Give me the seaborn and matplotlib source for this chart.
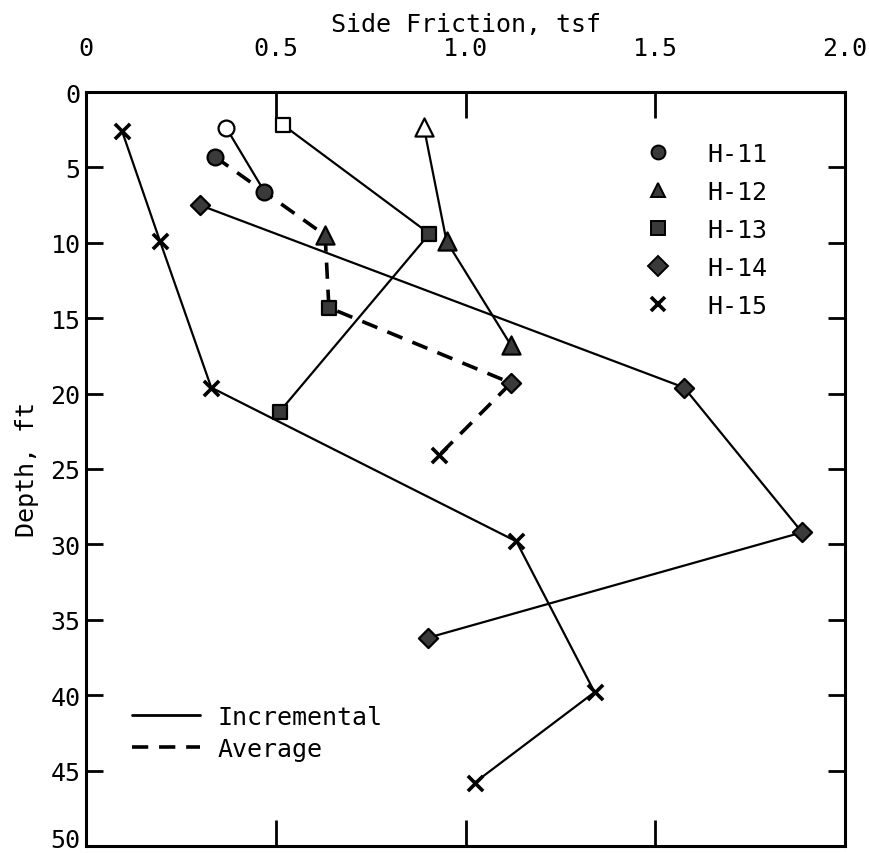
import matplotlib
matplotlib.use("Agg")
import matplotlib.pyplot as plt
from matplotlib.lines import Line2D
from matplotlib.transforms import ScaledTranslation
import seaborn as sns

sns.set_theme(style="white")
plt.rcParams["font.family"] = ["DejaVu Sans Mono"]
plt.rcParams["text.color"] = "black"
plt.rcParams["axes.labelcolor"] = "black"

# Incremental side friction (tsf) against depth (ft) for each borehole
boreholes = ["H-11", "H-12", "H-13", "H-14", "H-15"]
h11_friction = [0.37, 0.47]
h11_depth = [2.4, 6.6]
h12_friction = [0.89, 0.95, 1.12]
h12_depth = [2.3, 9.9, 16.8]
h13_friction = [0.52, 0.905, 0.51]
h13_depth = [2.2, 9.4, 21.2]
h14_friction = [0.30, 1.576, 1.887, 0.90]
h14_depth = [7.5, 19.6, 29.2, 36.2]
h15_friction = [0.095, 0.195, 0.33, 1.134, 1.34, 1.024]
h15_depth = [2.6, 9.9, 19.6, 29.8, 39.8, 45.8]

# Average side friction for each borehole
avg_friction = [0.34, 0.63, 0.64, 1.12, 0.93]
avg_depth = [4.3, 9.5, 14.3, 19.3, 24.1]

x_ticks = [0, 0.5, 1.0, 1.5, 2.0]
x_ticklabels = ["0", "0.5", "1.0", "1.5", "2.0"]
y_ticks = [0, 5, 10, 15, 20, 25, 30, 35, 40, 45, 50]

incremental = {
    "H-11": (h11_friction, h11_depth),
    "H-12": (h12_friction, h12_depth),
    "H-13": (h13_friction, h13_depth),
    "H-14": (h14_friction, h14_depth),
    "H-15": (h15_friction, h15_depth),
}
markers = {"H-11": "o", "H-12": "^", "H-13": "s", "H-14": "D", "H-15": "x"}
sizes = {"H-11": 130, "H-12": 170, "H-13": 105, "H-14": 95, "H-15": 120}
open_first = {"H-11", "H-12", "H-13"}
fill = "#3a3a3a"
fs = 18

fig = plt.figure(figsize=(8.69, 8.54), dpi=100)
ax = fig.add_axes([0.099, 0.0082, 0.8734, 0.8829])


def draw_markers(name, xs, ys, face):
    if not xs:
        return
    if markers[name] == "x":
        sns.scatterplot(x=xs, y=ys, marker="x", s=sizes[name], color="black",
                        linewidth=2.6, ax=ax, zorder=4)
    else:
        sns.scatterplot(x=xs, y=ys, marker=markers[name], s=sizes[name],
                        color=face, edgecolor="black", linewidth=1.6,
                        ax=ax, zorder=4)


for name in boreholes:
    fr, dp = incremental[name]
    sns.lineplot(x=fr, y=dp, sort=False, estimator=None, color="black",
                 linewidth=1.6, ax=ax, zorder=2)
    if name in open_first:
        draw_markers(name, fr[:1], dp[:1], "white")
        draw_markers(name, fr[1:], dp[1:], fill)
    else:
        draw_markers(name, fr, dp, fill)

sns.lineplot(x=avg_friction, y=avg_depth, sort=False, estimator=None,
             color="black", linewidth=2.6, linestyle=(0, (4.5, 3)),
             ax=ax, zorder=2)
for name, fr, dp in zip(boreholes, avg_friction, avg_depth):
    draw_markers(name, [fr], [dp], fill)

ax.set_xlim(0, 2.0)
ax.set_ylim(50, 0)
ax.set_xticks(x_ticks)
ax.set_xticklabels(x_ticklabels)
ax.set_yticks(y_ticks)
ax.set_yticklabels([str(v) for v in y_ticks])

ax.xaxis.tick_top()
ax.xaxis.set_label_position("top")
ax.tick_params(axis="x", which="both", top=True, bottom=True, labeltop=True,
               labelbottom=False, direction="in", length=19, width=2,
               pad=23, labelsize=fs, colors="black")
ax.tick_params(axis="y", which="both", left=True, right=True, labelleft=True,
               labelright=False, direction="in", length=12.5, width=2,
               pad=4, labelsize=fs, colors="black")
for sp in ax.spines.values():
    sp.set_visible(True)
    sp.set_color("black")
    sp.set_linewidth(2.2)

# keep the bottom depth label inside the figure
last = ax.get_yticklabels()[-1]
last.set_transform(last.get_transform() +
                   ScaledTranslation(0, 6 / 72, fig.dpi_scale_trans))

ax.set_xlabel("Side Friction, tsf", fontsize=fs, labelpad=4, color="black")
ax.set_ylabel("Depth, ft", fontsize=fs, labelpad=8, color="black")

marker_handles = []
for name in boreholes:
    if markers[name] == "x":
        marker_handles.append(Line2D([], [], marker="x", ls="none", color="black",
                                     markersize=10, markeredgewidth=2.6))
    else:
        marker_handles.append(Line2D([], [], marker=markers[name], ls="none",
                                     markerfacecolor=fill, markeredgecolor="black",
                                     markersize=10, markeredgewidth=1.4))
leg1 = ax.legend(marker_handles, boreholes, loc="upper left",
                 bbox_to_anchor=(0.737, 0.934), frameon=False, fontsize=fs,
                 handlelength=1.0, handletextpad=1.46, labelspacing=0.56,
                 borderpad=0, borderaxespad=0, labelcolor="black")
ax.add_artist(leg1)

line_handles = [
    Line2D([], [], color="black", linewidth=2.0),
    Line2D([], [], color="black", linewidth=2.6, linestyle=(0, (4.5, 3))),
]
ax.legend(line_handles, ["Incremental", "Average"], loc="upper left",
          bbox_to_anchor=(0.0606, 0.187), frameon=False, fontsize=fs,
          handlelength=2.7, handletextpad=0.72, labelspacing=0.32,
          borderpad=0, borderaxespad=0, labelcolor="black")

fig.savefig("out.png", dpi=100)
